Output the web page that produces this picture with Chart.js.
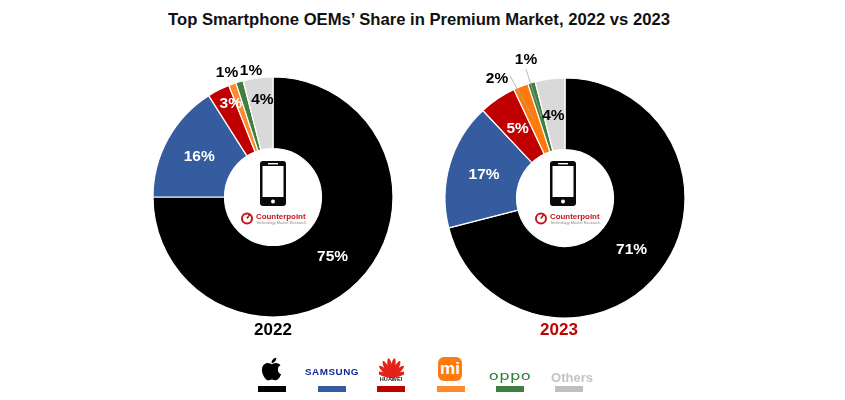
<!DOCTYPE html>
<html>
<head>
<meta charset="utf-8">
<script src="https://cdn.jsdelivr.net/npm/chart.js@4"></script>
<style>
  html, body { margin: 0; padding: 0; background: #fff; }
  body { width: 845px; height: 400px; position: relative; overflow: hidden; font-family: "Liberation Sans", Arial, sans-serif; }
  .abs { position: absolute; }
  canvas { position: absolute; }
  #title { left: 0; top: 10px; width: 838px; text-align: center; font-size: 16.65px; font-weight: bold; color: #111; white-space: nowrap; }
  .year { width: 120px; text-align: center; font-size: 17px; font-weight: bold; top: 320px; }
  .bar { top: 386px; width: 28px; height: 6px; }
  .cp { color: #c4161c; font-size: 7.9px; font-weight: bold; top: 212px; white-space: nowrap; }
  .cpsub { color: #8a8a8a; font-size: 3.9px; top: 220px; white-space: nowrap; }
</style>
</head>
<body>
<div id="title" class="abs">Top Smartphone OEMs’ Share in Premium Market, 2022 vs 2023</div>

<canvas id="chart2022" style="left:128px;top:52px"></canvas>
<canvas id="chart2023" style="left:420px;top:52.5px"></canvas>

<div class="abs year" style="left:213px;color:#000">2022</div>
<div class="abs year" style="left:499px;color:#c00000">2023</div>

<!-- centre badges -->
<svg class="abs" style="left:260px;top:161px" width="26" height="45" viewBox="0 0 26 45">
  <rect width="26" height="45" rx="3" fill="#0a0a0a"/><rect x="2.5" y="5" width="21" height="31" fill="#fff"/>
  <rect x="8" y="2" width="10" height="1.4" fill="#fff"/><circle cx="13" cy="40.5" r="2" fill="#fff"/>
</svg>
<svg class="abs" style="left:240px;top:211px" width="14" height="14" viewBox="0 0 14 14">
  <circle cx="7" cy="7.5" r="5" fill="none" stroke="#c4161c" stroke-width="2"/><path d="M7 7.5 L10 3" stroke="#c4161c" stroke-width="1.6"/>
</svg>
<div class="abs cp" style="left:256px">Counterpoint</div>
<div class="abs cpsub" style="left:256px">Technology Market Research</div>

<svg class="abs" style="left:550px;top:161px" width="26" height="45" viewBox="0 0 26 45">
  <rect width="26" height="45" rx="3" fill="#0a0a0a"/><rect x="2.5" y="5" width="21" height="31" fill="#fff"/>
  <rect x="8" y="2" width="10" height="1.4" fill="#fff"/><circle cx="13" cy="40.5" r="2" fill="#fff"/>
</svg>
<svg class="abs" style="left:534px;top:211px" width="14" height="14" viewBox="0 0 14 14">
  <circle cx="7" cy="7.5" r="5" fill="none" stroke="#c4161c" stroke-width="2"/><path d="M7 7.5 L10 3" stroke="#c4161c" stroke-width="1.6"/>
</svg>
<div class="abs cp" style="left:550px">Counterpoint</div>
<div class="abs cpsub" style="left:550px">Technology Market Research</div>

<!-- legend logos -->
<svg class="abs" style="left:261px;top:356px" width="21" height="26" viewBox="0 0 384 512">
  <path d="M318.7 268.7c-.2-36.7 16.4-64.4 50-84.8-18.8-26.9-47.2-41.7-84.7-44.6-35.5-2.8-74.3 20.7-88.5 20.7-15 0-49.4-19.7-76.4-19.7C63.3 141.2 4 184.8 4 273.5q0 39.3 14.4 81.2c12.8 36.7 59 126.7 107.2 125.2 25.2-.6 43-17.9 75.8-17.9 31.8 0 48.3 17.9 76.4 17.9 48.6-.7 90.4-82.5 102.6-119.3-65.2-30.7-61.7-90-61.7-91.9zm-56.6-164.2c27.3-32.4 24.8-61.9 24-72.5-24.1 1.4-52 16.4-67.9 34.9-17.5 19.8-27.8 44.3-25.6 71.9 26.1 2 49.9-11.4 69.5-34.3z"/>
</svg>
<div class="abs" style="left:300px;top:366px;width:64px;text-align:center;color:#1428a0;font-size:9.5px;font-weight:bold;letter-spacing:.5px;transform:scaleX(1.04)">SAMSUNG</div>
<svg class="abs" style="left:379px;top:357px" width="25" height="21" viewBox="-12.5 -21 25 21">
  <g fill="#e2231a">
    <ellipse cx="0" cy="-8.5" rx="2" ry="8" transform="rotate(-72 0 -1)"/>
    <ellipse cx="0" cy="-9" rx="2.2" ry="8.5" transform="rotate(-48 0 -1)"/>
    <ellipse cx="0" cy="-10" rx="2.3" ry="9" transform="rotate(-28 0 -1)"/>
    <ellipse cx="0" cy="-10.5" rx="2.3" ry="9.5" transform="rotate(-9 0 -1)"/>
    <ellipse cx="0" cy="-10.5" rx="2.3" ry="9.5" transform="rotate(9 0 -1)"/>
    <ellipse cx="0" cy="-10" rx="2.3" ry="9" transform="rotate(28 0 -1)"/>
    <ellipse cx="0" cy="-9" rx="2.2" ry="8.5" transform="rotate(48 0 -1)"/>
    <ellipse cx="0" cy="-8.5" rx="2" ry="8" transform="rotate(72 0 -1)"/>
  </g>
</svg>
<div class="abs" style="left:371px;top:376px;width:40px;text-align:center;color:#222;font-size:5.6px;font-weight:bold">HUAWEI</div>
<div class="abs" style="left:438px;top:357px;width:24px;height:24px;border-radius:6px;background:#ff7a0f;color:#fff;font-size:17px;font-weight:bold;line-height:23px;text-align:center">mi</div>
<div class="abs" style="left:490px;top:368px;width:40px;text-align:center;color:#2f7d3a;font-size:13px;letter-spacing:.4px;transform:scaleX(1.25);font-family:'DejaVu Sans'">oppo</div>
<div class="abs" style="left:550px;top:370px;width:44px;text-align:center;color:#c4c4c4;font-size:13px;font-weight:bold">Others</div>

<div id="legendBars"></div>

<script>
const categories = ['Apple', 'Samsung', 'Huawei', 'Xiaomi', 'OPPO', 'Others'];
const share2022 = [75, 16, 3, 1, 1, 4];
const share2023 = [71, 17, 5, 2, 1, 4];

const colors2022 = ['#000000', '#345c9e', '#c00000', '#ff8a2e', '#3f7f3f', '#d9d9d9'];
const colors2023 = ['#000000', '#345c9e', '#c00000', '#ff7a0a', '#3f7f3f', '#d9d9d9'];
const legendColors = ['#000000', '#345c9e', '#c00000', '#ff8a2e', '#3f7f3f', '#bfbfbf'];
const legendLeft = [258, 318, 377, 437, 496, 555];
const labelColors = ['#fff', '#fff', '#fff', '#000', '#000', '#000'];

// label shift from the middle of each slice
const nudge2022 = [[0, 0], [0, 0], [-4, -18], [-17.5, -45], [1.5, -45], [0, -14]];
const nudge2023 = [[0, 0], [0, 0], [0, 0], [-37, -41], [-15.5, -57], [-1, 1]];
// leader line start, relative to label (only the small 2023 slices have one)
const leaders2023 = [null, null, null, [13, -3], [0, 9], null];

legendColors.forEach((c, i) => {
    const bar = document.createElement('div');
    bar.className = 'abs bar';
    bar.style.left = legendLeft[i] + 'px';
    bar.style.background = c;
    document.getElementById('legendBars').appendChild(bar);
});

const sliceLabels = {
    id: 'sliceLabels',
    afterDatasetsDraw(chart, args, opts) {
        const ctx = chart.ctx;
        const arcs = chart.getDatasetMeta(0).data;
        const values = chart.data.datasets[0].data;
        ctx.save();
        arcs.forEach((arc, i) => {
            const c = arc.getCenterPoint();
            const x = c.x + opts.nudge[i][0];
            const y = c.y + opts.nudge[i][1];
            const lead = opts.leaders && opts.leaders[i];
            if (lead) {
                ctx.strokeStyle = '#a6a6a6';
                ctx.lineWidth = 0.8;
                ctx.beginPath();
                ctx.moveTo(x + lead[0], y + lead[1]);
                ctx.lineTo(c.x, c.y);
                ctx.stroke();
            }
            ctx.fillStyle = labelColors[i];
            ctx.font = 'bold 15.5px "Liberation Sans"';
            ctx.textAlign = 'center';
            ctx.textBaseline = 'middle';
            ctx.fillText(values[i] + '%', x, y);
        });
        ctx.restore();
    }
};

function makeDonut(id, values, colors, nudge, leaders) {
    const canvas = document.getElementById(id);
    canvas.width = 290;
    canvas.height = 290;
    new Chart(canvas.getContext('2d'), {
        type: 'doughnut',
        data: {
            labels: categories,
            datasets: [{ data: values, backgroundColor: colors, borderColor: '#fff', borderWidth: 1.2 }]
        },
        options: {
            responsive: false,
            animation: false,
            radius: 120,
            cutout: '40.4%',
            plugins: {
                legend: { display: false },
                tooltip: { enabled: false },
                sliceLabels: { nudge: nudge, leaders: leaders }
            }
        },
        plugins: [sliceLabels]
    });
}

makeDonut('chart2022', share2022, colors2022, nudge2022, null);
makeDonut('chart2023', share2023, colors2023, nudge2023, leaders2023);
</script>
</body>
</html>
